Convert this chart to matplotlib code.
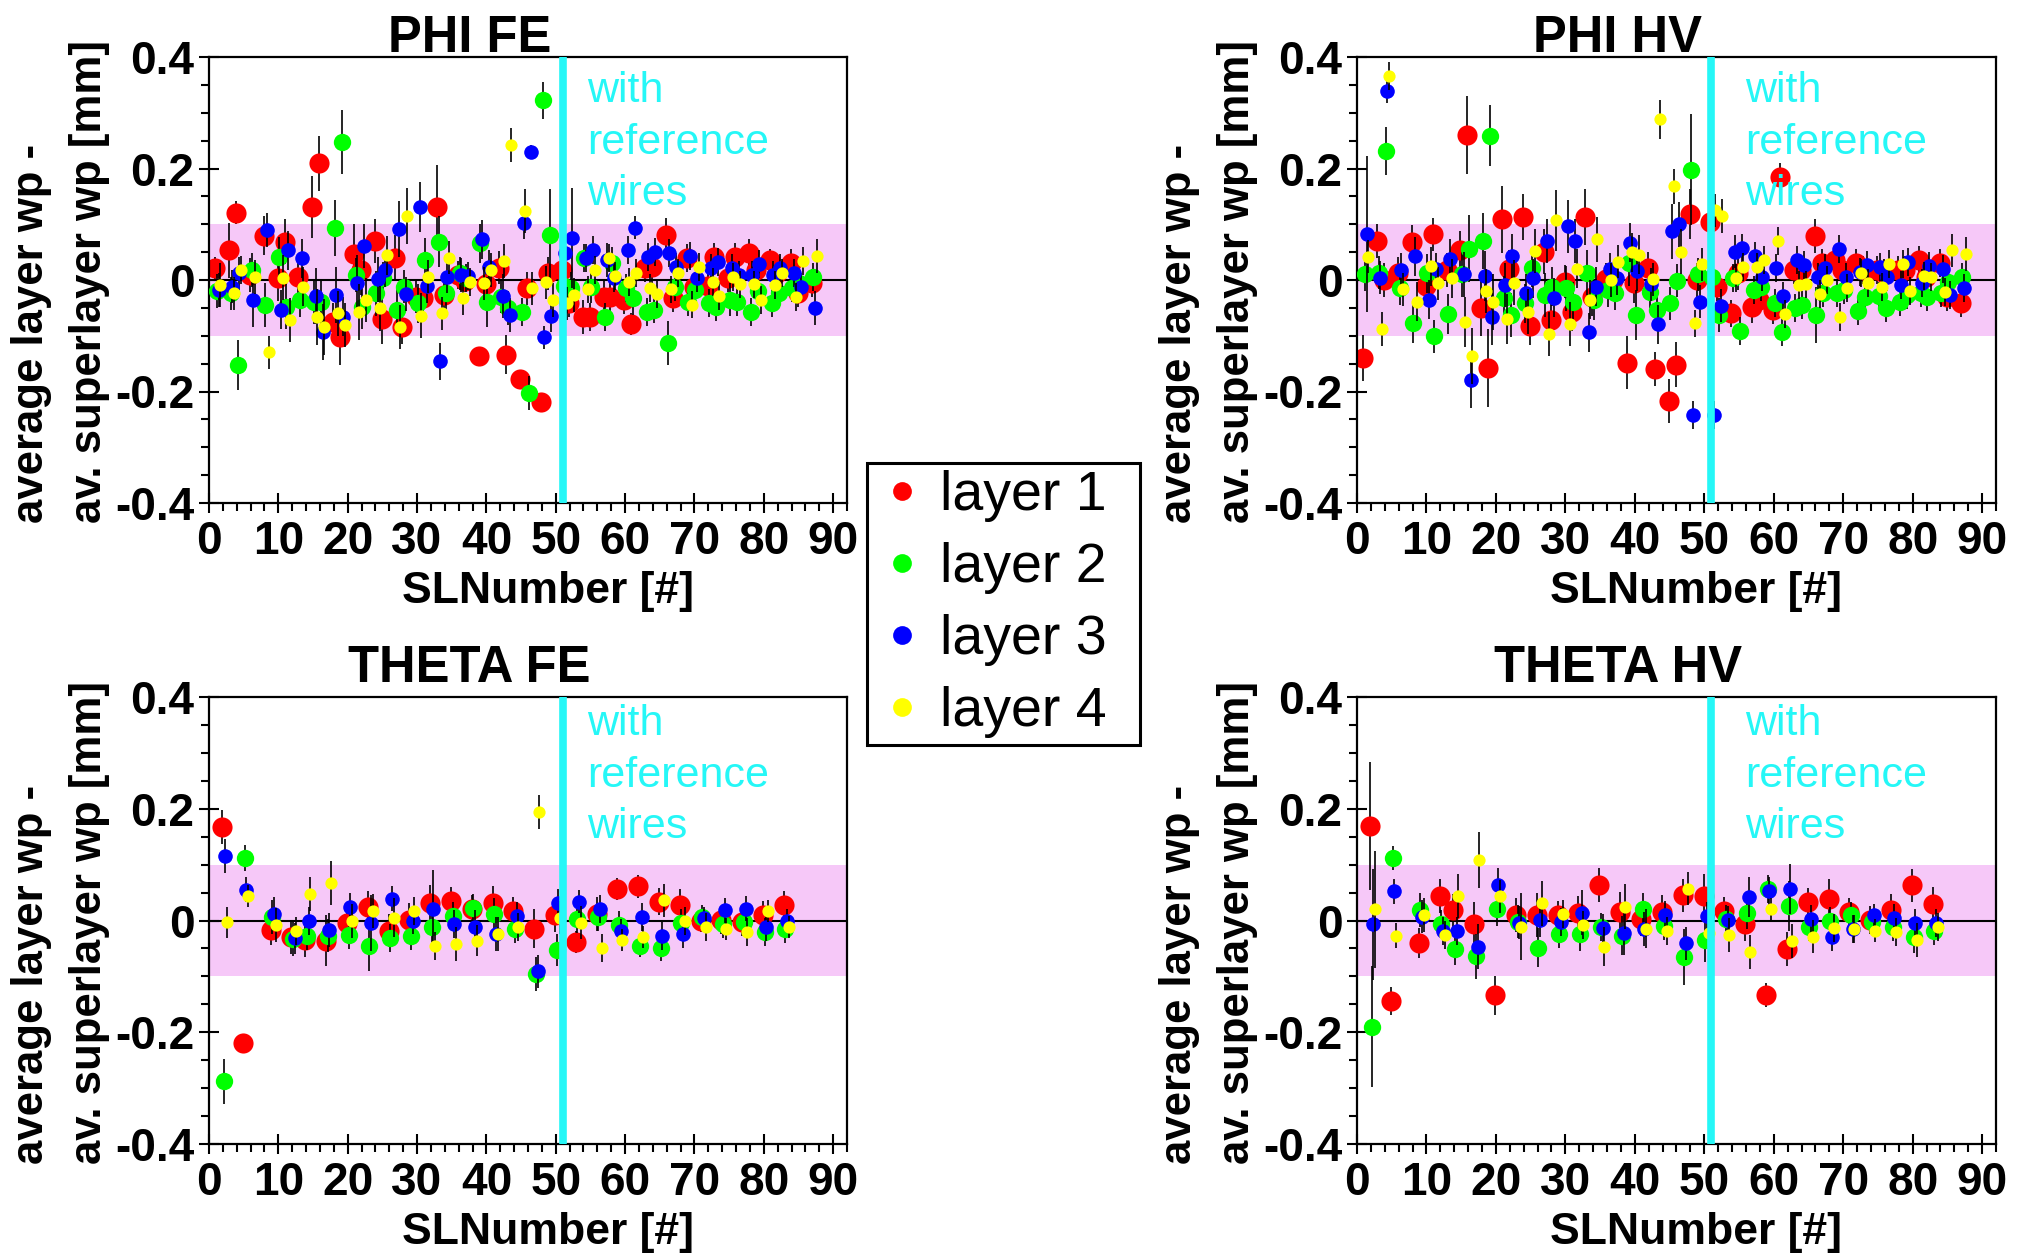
import numpy as np
import matplotlib
matplotlib.use("Agg")
import matplotlib.pyplot as plt
from matplotlib.lines import Line2D
from matplotlib.ticker import MultipleLocator

plt.rcParams["font.family"] = ["Liberation Sans", "DejaVu Sans"]

W, H = 2031, 1253

layer_names = ["layer 1", "layer 2", "layer 3", "layer 4"]
layer_colors = ["#ff0000", "#00ff00", "#0000ff", "#ffff00"]

# superlayer numbers (phi and theta superlayers)
phi_sl = [1, 3, 4, 6, 8, 10, 11, 13, 15, 16, 18, 19, 21, 22, 24, 25, 27, 28, 30, 31,
          33, 34, 36, 37, 39, 40, 42, 43, 45, 46, 48, 49,
          51, 52, 54, 55, 57, 58, 60, 61, 63, 64, 66, 67, 69, 70, 72, 73, 75, 76,
          78, 79, 81, 82, 84, 85, 87]
theta_sl = [2, 5, 9, 12, 14, 17, 20, 23, 26, 29, 32, 35, 38, 41, 44, 47, 50, 53, 56, 59,
            62, 65, 68, 71, 74, 77, 80, 83]

# ---- PHI FE ----
phi_fe_l1 = [0.022, 0.053, 0.121, 0.009, 0.079, 0.003, 0.069, 0.005, 0.131, 0.209, -0.076, -0.103,
             0.046, 0.018, 0.070, -0.070, 0.040, -0.084, -0.030, -0.033, 0.131, -0.027, 0.009, -0.002,
             -0.137, -0.008, 0.022, -0.134, -0.177, -0.015, -0.219, 0.012,
             0.018, -0.042, -0.066, -0.066, -0.030, -0.030, -0.036, -0.079, 0.021, 0.024, 0.081, -0.033,
             0.039, -0.012, -0.010, 0.042, 0.004, 0.042, 0.049, 0.018, 0.036, 0.012, 0.030, -0.024, -0.006]
phi_fe_l2 = [-0.020, -0.024, -0.152, 0.018, -0.045, 0.042, -0.048, -0.036, -0.039, -0.039, 0.093, 0.248,
             0.009, -0.048, -0.024, 0.003, -0.054, -0.012, -0.042, 0.036, 0.069, -0.024, 0.012, 0.003,
             0.066, -0.039, -0.030, -0.050, -0.057, -0.203, 0.322, 0.081,
             -0.010, -0.015, 0.039, -0.012, -0.066, 0.030, -0.015, -0.033, -0.057, -0.053, -0.113, -0.012,
             -0.039, -0.018, -0.042, -0.048, -0.035, -0.039, -0.057, -0.020, -0.042, -0.024, -0.015, -0.006, 0.005]
phi_fe_l3 = [-0.018, -0.012, 0.012, -0.035, 0.090, -0.053, 0.053, 0.039, -0.029, -0.093, -0.027, -0.066,
             -0.006, 0.061, 0.001, 0.018, 0.091, -0.025, 0.131, -0.011, -0.146, 0.006, 0.009, 0.007,
             0.073, 0.024, -0.029, -0.063, 0.103, 0.230, -0.103, -0.064,
             0.048, 0.075, 0.039, 0.054, 0.036, 0.003, 0.054, 0.094, 0.041, 0.051, 0.048, 0.024,
             0.043, 0.003, 0.021, 0.033, 0.021, 0.009, 0.009, 0.029, 0.009, 0.021, 0.012, -0.013, -0.050]
phi_fe_l4 = [-0.009, -0.024, 0.018, 0.005, -0.130, 0.004, -0.072, -0.012, -0.066, -0.084, -0.060, -0.081,
             -0.057, -0.036, -0.051, 0.044, -0.084, 0.115, -0.064, 0.006, -0.060, 0.040, -0.033, -0.003,
             -0.006, 0.018, 0.034, 0.242, 0.124, -0.015, -0.004, -0.036,
             -0.042, -0.027, -0.017, 0.018, 0.039, 0.007, -0.003, 0.013, -0.014, -0.026, -0.017, 0.013,
             -0.044, 0.024, -0.004, -0.029, 0.006, -0.008, -0.008, -0.036, -0.009, 0.012, -0.030, 0.034, 0.043]
phi_fe_e1 = [0.02, 0.05, 0.02, 0.03, 0.035, 0.04, 0.04, 0.03, 0.056, 0.05, 0.035, 0.05, 0.055, 0.045, 0.04, 0.045,
             0.04, 0.03, 0.03, 0.03, 0.075, 0.03, 0.025, 0.02, 0.015, 0.03, 0.03, 0.035, 0.015, 0.03, 0.012, 0.03,
             0.03, 0.025, 0.03, 0.025, 0.03, 0.025, 0.025, 0.02, 0.025, 0.03, 0.03, 0.025, 0.025, 0.025, 0.03,
             0.025, 0.025, 0.025, 0.025, 0.025, 0.02, 0.02, 0.025, 0.025, 0.025]
phi_fe_e2 = [0.03, 0.03, 0.045, 0.03, 0.04, 0.035, 0.04, 0.03, 0.04, 0.04, 0.05, 0.057, 0.03, 0.04, 0.04, 0.03,
             0.04, 0.03, 0.035, 0.04, 0.045, 0.03, 0.03, 0.025, 0.035, 0.045, 0.03, 0.03, 0.025, 0.03, 0.033, 0.083,
             0.03, 0.03, 0.025, 0.03, 0.025, 0.03, 0.025, 0.03, 0.025, 0.025, 0.04, 0.025, 0.025, 0.025, 0.025,
             0.025, 0.03, 0.025, 0.025, 0.025, 0.025, 0.025, 0.025, 0.025, 0.025]
phi_fe_e3 = [0.03, 0.03, 0.03, 0.05, 0.03, 0.035, 0.035, 0.035, 0.05, 0.05, 0.05, 0.035, 0.05, 0.04, 0.04, 0.03,
             0.05, 0.03, 0.045, 0.03, 0.033, 0.03, 0.03, 0.025, 0.035, 0.03, 0.04, 0.03, 0.03, 0.012, 0.02, 0.03,
             0.03, 0.09, 0.025, 0.025, 0.03, 0.025, 0.025, 0.02, 0.025, 0.025, 0.025, 0.025, 0.025, 0.025, 0.025,
             0.025, 0.025, 0.025, 0.025, 0.025, 0.025, 0.025, 0.025, 0.025, 0.03]
phi_fe_e4 = [0.04, 0.03, 0.025, 0.03, 0.03, 0.04, 0.04, 0.035, 0.05, 0.05, 0.04, 0.04, 0.05, 0.04, 0.04, 0.035,
             0.04, 0.05, 0.04, 0.03, 0.03, 0.03, 0.03, 0.025, 0.03, 0.03, 0.03, 0.03, 0.04, 0.03, 0.03, 0.03,
             0.03, 0.03, 0.025, 0.025, 0.025, 0.025, 0.025, 0.025, 0.025, 0.025, 0.025, 0.025, 0.025, 0.025, 0.025,
             0.025, 0.025, 0.025, 0.025, 0.025, 0.025, 0.025, 0.025, 0.025, 0.03]

# ---- PHI HV ----
phi_hv_l1 = [-0.140, 0.070, 0.000, 0.012, 0.069, -0.011, 0.082, 0.018, 0.053, 0.260, -0.051, -0.158,
             0.109, 0.019, 0.113, -0.082, 0.051, -0.072, -0.003, -0.057, 0.113, -0.030, 0.001, 0.000,
             -0.148, -0.006, 0.021, -0.160, -0.217, -0.152, 0.118, 0.000,
             0.104, -0.012, -0.060, 0.012, -0.048, -0.036, -0.054, 0.184, 0.018, 0.018, 0.079, 0.030,
             0.036, 0.018, 0.030, 0.018, 0.018, 0.012, 0.018, 0.018, 0.036, 0.006, 0.030, -0.030, -0.042]
phi_hv_l2 = [0.010, 0.013, 0.231, -0.015, -0.078, 0.012, -0.101, -0.061, 0.010, 0.056, 0.070, 0.259,
             -0.033, -0.063, -0.042, 0.022, -0.027, -0.012, -0.015, -0.039, 0.013, -0.036, -0.018, -0.024,
             0.030, -0.063, -0.021, -0.054, -0.042, -0.001, 0.198, 0.010,
             0.006, -0.063, 0.003, -0.091, -0.018, -0.012, -0.042, -0.094, -0.051, -0.045, -0.063, -0.024,
             -0.024, -0.018, -0.055, -0.030, -0.029, -0.051, -0.039, -0.027, -0.024, -0.030, -0.024, -0.003, 0.006]
phi_hv_l3 = [0.082, 0.004, 0.339, 0.018, 0.043, -0.035, 0.019, 0.038, 0.010, -0.180, 0.007, -0.067,
             -0.009, 0.043, -0.024, 0.003, 0.070, -0.032, 0.096, 0.070, -0.094, -0.012, 0.019, 0.003,
             0.067, 0.016, -0.008, -0.079, 0.087, 0.100, -0.242, -0.039,
             -0.242, -0.046, 0.051, 0.057, 0.043, 0.005, 0.022, -0.029, 0.036, 0.027, 0.005, 0.022,
             0.055, 0.006, 0.015, 0.027, 0.024, 0.006, -0.009, 0.033, -0.005, 0.025, 0.019, -0.027, -0.014]
phi_hv_l4 = [0.042, -0.088, 0.366, -0.017, -0.039, 0.025, -0.006, 0.003, -0.076, -0.136, -0.020, -0.039,
             -0.070, -0.005, -0.057, 0.052, -0.097, 0.107, -0.079, 0.020, -0.035, 0.073, 0.000, 0.033,
             0.050, 0.045, 0.001, 0.288, 0.168, 0.051, -0.078, 0.028,
             0.125, 0.115, 0.003, 0.024, 0.024, 0.036, 0.070, -0.061, -0.009, -0.008, -0.025, 0.000,
             -0.066, -0.014, 0.012, -0.006, -0.012, 0.028, 0.028, -0.020, 0.007, 0.005, -0.022, 0.053, 0.047]
phi_hv_e1 = [0.042, 0.03, 0.03, 0.03, 0.03, 0.035, 0.03, 0.03, 0.035, 0.07, 0.05, 0.07, 0.06, 0.035, 0.042, 0.035,
             0.04, 0.035, 0.03, 0.035, 0.05, 0.035, 0.03, 0.03, 0.048, 0.035, 0.03, 0.03, 0.04, 0.04, 0.045, 0.03,
             0.03, 0.025, 0.025, 0.03, 0.03, 0.025, 0.025, 0.025, 0.025, 0.025, 0.03, 0.025, 0.025, 0.025, 0.025,
             0.025, 0.025, 0.025, 0.025, 0.025, 0.025, 0.02, 0.025, 0.025, 0.025]
phi_hv_e2 = [0.03, 0.03, 0.043, 0.03, 0.035, 0.035, 0.03, 0.035, 0.04, 0.06, 0.05, 0.055, 0.04, 0.04, 0.035, 0.035,
             0.04, 0.035, 0.04, 0.035, 0.04, 0.035, 0.03, 0.03, 0.04, 0.045, 0.03, 0.035, 0.03, 0.03, 0.1, 0.03,
             0.03, 0.03, 0.025, 0.025, 0.025, 0.025, 0.025, 0.025, 0.025, 0.025, 0.05, 0.025, 0.025, 0.025, 0.025,
             0.025, 0.025, 0.025, 0.025, 0.025, 0.025, 0.025, 0.025, 0.025, 0.025]
phi_hv_e3 = [0.14, 0.03, 0.022, 0.03, 0.035, 0.035, 0.03, 0.035, 0.04, 0.05, 0.045, 0.05, 0.04, 0.04, 0.035, 0.035,
             0.04, 0.035, 0.048, 0.04, 0.035, 0.035, 0.03, 0.03, 0.035, 0.035, 0.03, 0.035, 0.05, 0.04, 0.025, 0.03,
             0.025, 0.03, 0.03, 0.025, 0.025, 0.025, 0.025, 0.025, 0.025, 0.025, 0.025, 0.025, 0.025, 0.025, 0.025,
             0.025, 0.025, 0.025, 0.025, 0.025, 0.025, 0.025, 0.025, 0.025, 0.025]
phi_hv_e4 = [0.03, 0.03, 0.025, 0.03, 0.035, 0.035, 0.03, 0.035, 0.045, 0.05, 0.04, 0.05, 0.045, 0.04, 0.04, 0.04,
             0.04, 0.055, 0.04, 0.035, 0.035, 0.04, 0.03, 0.03, 0.035, 0.035, 0.03, 0.035, 0.032, 0.04, 0.025, 0.03,
             0.03, 0.03, 0.025, 0.025, 0.025, 0.025, 0.025, 0.025, 0.025, 0.025, 0.025, 0.025, 0.025, 0.025, 0.025,
             0.025, 0.025, 0.025, 0.025, 0.025, 0.025, 0.025, 0.025, 0.03, 0.03]

# ---- THETA FE ----
theta_fe_l1 = [0.167, -0.220, -0.017, -0.030, -0.035, -0.036, -0.005, 0.025, -0.018, 0.001, 0.031, 0.035,
               0.020, 0.031, 0.017, -0.015, 0.010, -0.039, 0.012, 0.056, 0.061, 0.034, 0.027, -0.001,
               0.001, -0.003, 0.010, 0.027]
theta_fe_l2 = [-0.288, 0.112, 0.006, -0.033, -0.027, -0.027, -0.026, -0.046, -0.032, -0.027, -0.012, 0.008,
               0.022, 0.011, -0.015, -0.096, -0.053, 0.003, 0.007, -0.008, -0.045, -0.050, -0.005, 0.007,
               -0.007, -0.003, -0.021, -0.015]
theta_fe_l3 = [0.115, 0.055, 0.012, -0.032, -0.001, -0.017, 0.025, -0.004, 0.039, 0.000, 0.021, -0.006,
               -0.012, -0.024, 0.008, -0.091, 0.032, 0.034, 0.021, -0.018, 0.006, -0.027, -0.024, 0.004,
               0.018, 0.021, -0.012, 0.000]
theta_fe_l4 = [-0.003, 0.044, -0.008, -0.019, 0.047, 0.067, -0.001, 0.017, 0.005, 0.017, -0.046, -0.042,
               -0.036, -0.024, -0.012, 0.194, 0.005, -0.004, -0.050, -0.035, -0.029, 0.036, -0.001, -0.012,
               -0.015, -0.020, 0.017, -0.012]
theta_fe_e1 = [0.03, 0.013, 0.026, 0.03, 0.03, 0.045, 0.03, 0.028, 0.03, 0.03, 0.032, 0.025, 0.025, 0.03,
               0.025, 0.035, 0.03, 0.02, 0.03, 0.02, 0.02, 0.025, 0.03, 0.02, 0.025, 0.025, 0.025, 0.025]
theta_fe_e2 = [0.04, 0.023, 0.03, 0.03, 0.025, 0.03, 0.025, 0.045, 0.025, 0.025, 0.03, 0.025, 0.025, 0.03,
               0.025, 0.03, 0.028, 0.025, 0.025, 0.025, 0.02, 0.022, 0.025, 0.02, 0.025, 0.025, 0.025, 0.025]
theta_fe_e3 = [0.03, 0.022, 0.03, 0.028, 0.025, 0.03, 0.025, 0.05, 0.022, 0.025, 0.07, 0.025, 0.03, 0.03,
               0.025, 0.03, 0.025, 0.02, 0.025, 0.02, 0.025, 0.025, 0.025, 0.02, 0.022, 0.022, 0.025, 0.02]
theta_fe_e4 = [0.028, 0.02, 0.03, 0.025, 0.03, 0.04, 0.03, 0.03, 0.035, 0.025, 0.025, 0.03, 0.028, 0.03,
               0.025, 0.03, 0.03, 0.03, 0.025, 0.02, 0.02, 0.03, 0.025, 0.025, 0.02, 0.025, 0.02, 0.02]

# ---- THETA HV ----
theta_hv_l1 = [0.169, -0.144, -0.041, 0.044, 0.018, -0.006, -0.134, 0.010, 0.010, 0.010, 0.013, 0.064,
               0.016, 0.003, 0.015, 0.045, 0.044, 0.017, -0.006, -0.133, -0.051, 0.033, 0.039, 0.016,
               0.001, 0.018, 0.063, 0.030]
theta_hv_l2 = [-0.190, 0.112, 0.019, -0.006, -0.051, -0.064, 0.020, -0.002, -0.049, -0.025, -0.025, -0.011,
               -0.027, 0.020, -0.010, -0.066, -0.035, 0.002, 0.014, 0.057, 0.026, -0.012, -0.001, 0.009,
               -0.003, -0.011, -0.029, -0.018]
theta_hv_l3 = [-0.007, 0.052, 0.007, -0.018, -0.019, -0.047, 0.064, -0.004, 0.001, -0.003, 0.014, -0.014,
               -0.022, -0.015, 0.010, -0.041, 0.008, 0.001, 0.042, 0.052, 0.056, 0.002, -0.029, -0.015,
               0.010, 0.005, -0.004, -0.004]
theta_hv_l4 = [0.020, -0.027, 0.010, -0.026, 0.044, 0.109, 0.043, -0.011, 0.031, 0.011, -0.008, -0.047,
               0.025, -0.015, -0.019, 0.057, -0.022, -0.026, -0.056, 0.021, -0.037, -0.029, -0.014, -0.016,
               -0.018, -0.021, -0.035, -0.011]
theta_hv_e1 = [0.115, 0.025, 0.027, 0.03, 0.03, 0.04, 0.035, 0.03, 0.04, 0.025, 0.03, 0.03, 0.035, 0.03,
               0.03, 0.03, 0.04, 0.025, 0.03, 0.022, 0.03, 0.025, 0.035, 0.025, 0.025, 0.03, 0.03, 0.03]
theta_hv_e2 = [0.108, 0.022, 0.03, 0.025, 0.028, 0.04, 0.03, 0.03, 0.035, 0.025, 0.03, 0.025, 0.035, 0.03,
               0.025, 0.05, 0.04, 0.025, 0.03, 0.025, 0.045, 0.025, 0.025, 0.025, 0.02, 0.025, 0.03, 0.025]
theta_hv_e3 = [0.1, 0.022, 0.03, 0.025, 0.025, 0.04, 0.03, 0.03, 0.03, 0.025, 0.04, 0.025, 0.04, 0.03,
               0.025, 0.03, 0.025, 0.025, 0.035, 0.025, 0.045, 0.025, 0.025, 0.025, 0.02, 0.025, 0.025, 0.025]
theta_hv_e4 = [0.105, 0.022, 0.03, 0.025, 0.04, 0.05, 0.03, 0.06, 0.04, 0.025, 0.025, 0.035, 0.04, 0.035,
               0.025, 0.03, 0.025, 0.03, 0.03, 0.02, 0.03, 0.03, 0.025, 0.025, 0.02, 0.025, 0.03, 0.025]

# style
marker_sizes = [14.5, 12.5, 10.5, 8.8]
layer_offsets = [-0.36, -0.12, 0.12, 0.36]
bin_shift = 0.25
band_color = "#f6c8f8"
cyan = "#25f7f7"
ref_sl = 51

panels = [
    ("PHI FE", phi_sl, [phi_fe_l1, phi_fe_l2, phi_fe_l3, phi_fe_l4],
     [phi_fe_e1, phi_fe_e2, phi_fe_e3, phi_fe_e4], (209, 57, 847, 503), 54.5, 0.319, 1.011),
    ("PHI HV", phi_sl, [phi_hv_l1, phi_hv_l2, phi_hv_l3, phi_hv_l4],
     [phi_hv_e1, phi_hv_e2, phi_hv_e3, phi_hv_e4], (1357, 57, 1996, 503), 55.9, 0.319, 1.011),
    ("THETA FE", theta_sl, [theta_fe_l1, theta_fe_l2, theta_fe_l3, theta_fe_l4],
     [theta_fe_e1, theta_fe_e2, theta_fe_e3, theta_fe_e4], (209, 697, 847, 1144), 54.5, 0.332, 1.034),
    ("THETA HV", theta_sl, [theta_hv_l1, theta_hv_l2, theta_hv_l3, theta_hv_l4],
     [theta_hv_e1, theta_hv_e2, theta_hv_e3, theta_hv_e4], (1357, 697, 1996, 1144), 55.9, 0.332, 1.034),
]

fig = plt.figure(figsize=(W / 100, H / 100), dpi=100)

for title, sl, vals, errs, (x0, y0, x1, y1), tx, ty, title_y in panels:
    ax = fig.add_axes([x0 / W, 1 - y1 / H, (x1 - x0) / W, (y1 - y0) / H])
    ax.set_xlim(0, 92)
    ax.set_ylim(-0.4, 0.4)
    ax.axhspan(-0.1, 0.1, color=band_color, lw=0, zorder=0)
    ax.axhline(0, color="black", lw=1.5, zorder=1)
    x_base = np.asarray(sl, dtype=float) + bin_shift
    for k in range(4):
        ax.errorbar(x_base + layer_offsets[k], vals[k], yerr=errs[k], fmt="o",
                    ms=marker_sizes[k], mfc=layer_colors[k], mec=layer_colors[k], mew=0,
                    ecolor="black", elinewidth=1.2, capsize=6, capthick=1.4, zorder=2 + k)
    ax.axvline(ref_sl, color=cyan, lw=5.5, zorder=10)
    for i, word in enumerate(["with", "reference", "wires"]):
        ax.text(tx, ty - i * 0.0925, word, color=cyan, fontsize=31, ha="left",
                va="baseline", zorder=11)

    ax.set_xticks(range(0, 91, 10))
    ax.set_xticklabels([str(v) for v in range(0, 91, 10)])
    ax.set_yticks([-0.4, -0.2, 0, 0.2, 0.4])
    ax.set_yticklabels(["-0.4", "-0.2", "0", "0.2", "0.4"])
    ax.xaxis.set_minor_locator(MultipleLocator(2))
    ax.yaxis.set_minor_locator(MultipleLocator(0.05))
    ax.tick_params(which="major", direction="inout", length=15, width=1.5,
                   labelsize=33, top=False, right=False)
    ax.tick_params(axis="x", which="major", pad=5)
    ax.tick_params(axis="y", which="major", pad=3)
    ax.tick_params(which="minor", direction="out", length=6, width=1.5, top=False, right=False)
    for lab in ax.get_xticklabels() + ax.get_yticklabels():
        lab.set_fontweight("bold")
    for sp in ax.spines.values():
        sp.set_linewidth(1.6)

    ax.text(0.408, title_y, title, transform=ax.transAxes, ha="center", va="baseline",
            fontsize=36.5, fontweight="bold")
    ax.text(0.531, -0.224, "SLNumber [#]", transform=ax.transAxes, ha="center",
            va="baseline", fontsize=32, fontweight="bold")
    fig.text((x0 - 177) / W, 1 - (y1 + 20) / H, "average layer wp -", rotation=90,
             ha="center", va="bottom", fontsize=31.5, fontweight="bold")
    fig.text((x0 - 119) / W, 1 - (y1 + 20) / H, "av. superlayer wp [mm]", rotation=90,
             ha="center", va="bottom", fontsize=31.5, fontweight="bold")

handles = [Line2D([], [], ls="none", marker="o", ms=13.5, mew=0, color=c) for c in layer_colors]
leg = fig.legend(handles, layer_names, loc="upper left",
                 bbox_to_anchor=(867 / W, 1 - 748 / H, (1140 - 867) / W, (748 - 463) / H),
                 mode="expand", borderaxespad=0, fontsize=40, handlelength=1.0,
                 handletextpad=0.19, borderpad=0.13, labelspacing=0.36,
                 fancybox=False, framealpha=1, edgecolor="black")
leg.get_frame().set_linewidth(2.2)

fig.savefig("out.png", dpi=100)
